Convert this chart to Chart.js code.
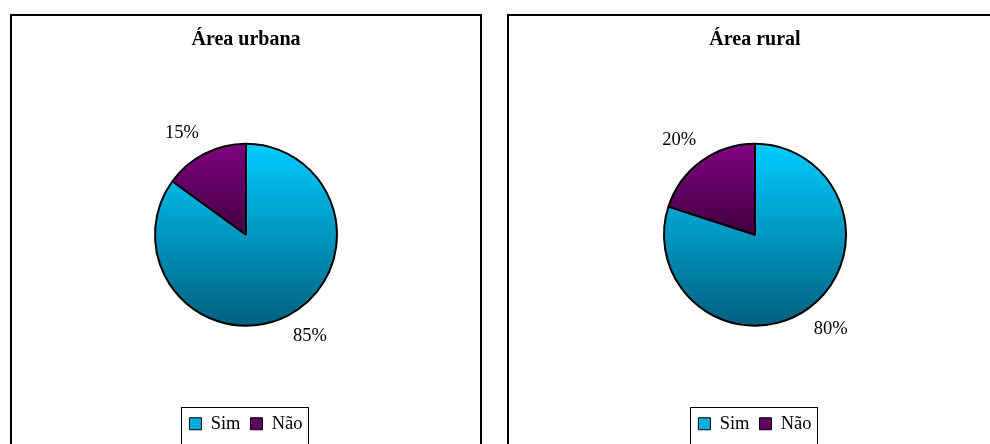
<!DOCTYPE html>
<html>
<head>
<meta charset="utf-8">
<script src="https://cdn.jsdelivr.net/npm/chart.js@4/dist/chart.umd.min.js"></script>
<style>
  html, body { margin: 0; padding: 0; background: #fff; width: 990px; height: 444px; overflow: hidden; position: relative; }
  .panel { position: absolute; top: 14px; border: 2px solid #000; box-sizing: border-box; height: 460px; }
  #p1 { left: 10px; width: 472px; }
  #p2 { left: 507px; width: 520px; }
  canvas { position: absolute; top: 0; left: 0; }
</style>
</head>
<body>
<div class="panel" id="p1"><canvas id="c1" width="468" height="428"></canvas></div>
<div class="panel" id="p2"><canvas id="c2" width="492" height="428"></canvas></div>
<script>
// ---- data ----
const categories = ['Sim', 'Não'];
const urbanValues = [85, 15];
const ruralValues = [80, 20];
const titles = ['Área urbana', 'Área rural'];

// ---- styles ----
const FONT = "'Liberation Serif', 'Times New Roman', serif";
const PIE_R = 91;
const gradStops = [['#00CCFF', '#006080'], ['#800080', '#400040']];
const legendSolid = ['#00AEDC', '#600060'];

function sliceFill(ctx) {
  const chart = ctx.chart;
  const a = chart.chartArea;
  const i = ctx.dataIndex;
  if (!a || i === undefined) return legendSolid[i || 0];
  const cy = (a.top + a.bottom) / 2;
  const y0 = cy - PIE_R;
  const y1 = i === 0 ? cy + PIE_R : cy;
  const g = chart.ctx.createLinearGradient(0, y0, 0, y1);
  g.addColorStop(0, gradStops[i][0]);
  g.addColorStop(1, gradStops[i][1]);
  return g;
}

const pctLabels = {
  id: 'pctLabels',
  afterDatasetsDraw(chart) {
    const ctx = chart.ctx;
    const meta = chart.getDatasetMeta(0);
    const data = chart.data.datasets[0].data;
    ctx.save();
    ctx.font = '18.5px ' + FONT;
    ctx.fillStyle = '#000';
    ctx.textAlign = 'center';
    ctx.textBaseline = 'middle';
    meta.data.forEach((arc, i) => {
      const p = arc.getProps(['x', 'y', 'startAngle', 'endAngle', 'outerRadius'], true);
      const mid = (p.startAngle + p.endAngle) / 2;
      const dx = Math.cos(mid), dy = Math.sin(mid);
      const d = p.outerRadius - 3;
      const lx = p.x + dx * d + Math.sign(dx) * 24;
      const ly = p.y + dy * d + Math.sign(dy) * 23;
      ctx.fillText(data[i] + '%', lx, ly);
    });
    ctx.restore();
  }
};

const legendFrame = {
  id: 'legendFrame',
  afterDraw(chart) {
    const lg = chart.legend;
    if (!lg || !lg.legendHitBoxes || !lg.legendHitBoxes.length) return;
    const hb = lg.legendHitBoxes;
    const left = Math.min(...hb.map(h => h.left)) - 8;
    const right = Math.max(...hb.map(h => h.left + h.width)) + 6;
    const cyText = hb[0].top + hb[0].height / 2;
    const ctx = chart.ctx;
    ctx.save();
    ctx.strokeStyle = '#000';
    ctx.lineWidth = 1;
    ctx.strokeRect(Math.round(left) + 0.5, Math.round(cyText - 17) + 0.5, Math.round(right - left), 40);
    ctx.restore();
  }
};

function makeChart(id, values, title) {
  return new Chart(document.getElementById(id), {
    type: 'pie',
    data: {
      labels: categories,
      datasets: [{
        data: values,
        radius: PIE_R,
        backgroundColor: sliceFill,
        borderColor: '#000',
        borderWidth: 2
      }]
    },
    options: {
      responsive: false,
      animation: false,
      layout: { padding: { top: 0, bottom: 1, left: 0, right: 0 } },
      plugins: {
        tooltip: { enabled: false },
        title: {
          display: true,
          text: title,
          color: '#000',
          font: { family: FONT, size: 20, weight: 'bold', lineHeight: 1.2 },
          padding: { top: 12, bottom: 13 }
        },
        legend: {
          position: 'bottom',
          labels: {
            color: '#000',
            font: { family: FONT, size: 18.5 },
            boxWidth: 12,
            boxHeight: 12,
            padding: 10,
            generateLabels(chart) {
              const items = Chart.overrides.pie.plugins.legend.labels.generateLabels(chart);
              items.forEach((it, i) => { it.fillStyle = legendSolid[i]; it.strokeStyle = '#000'; it.lineWidth = 1; });
              return items;
            }
          }
        }
      }
    },
    plugins: [pctLabels, legendFrame]
  });
}

makeChart('c1', urbanValues, titles[0]);
makeChart('c2', ruralValues, titles[1]);
</script>
</body>
</html>
